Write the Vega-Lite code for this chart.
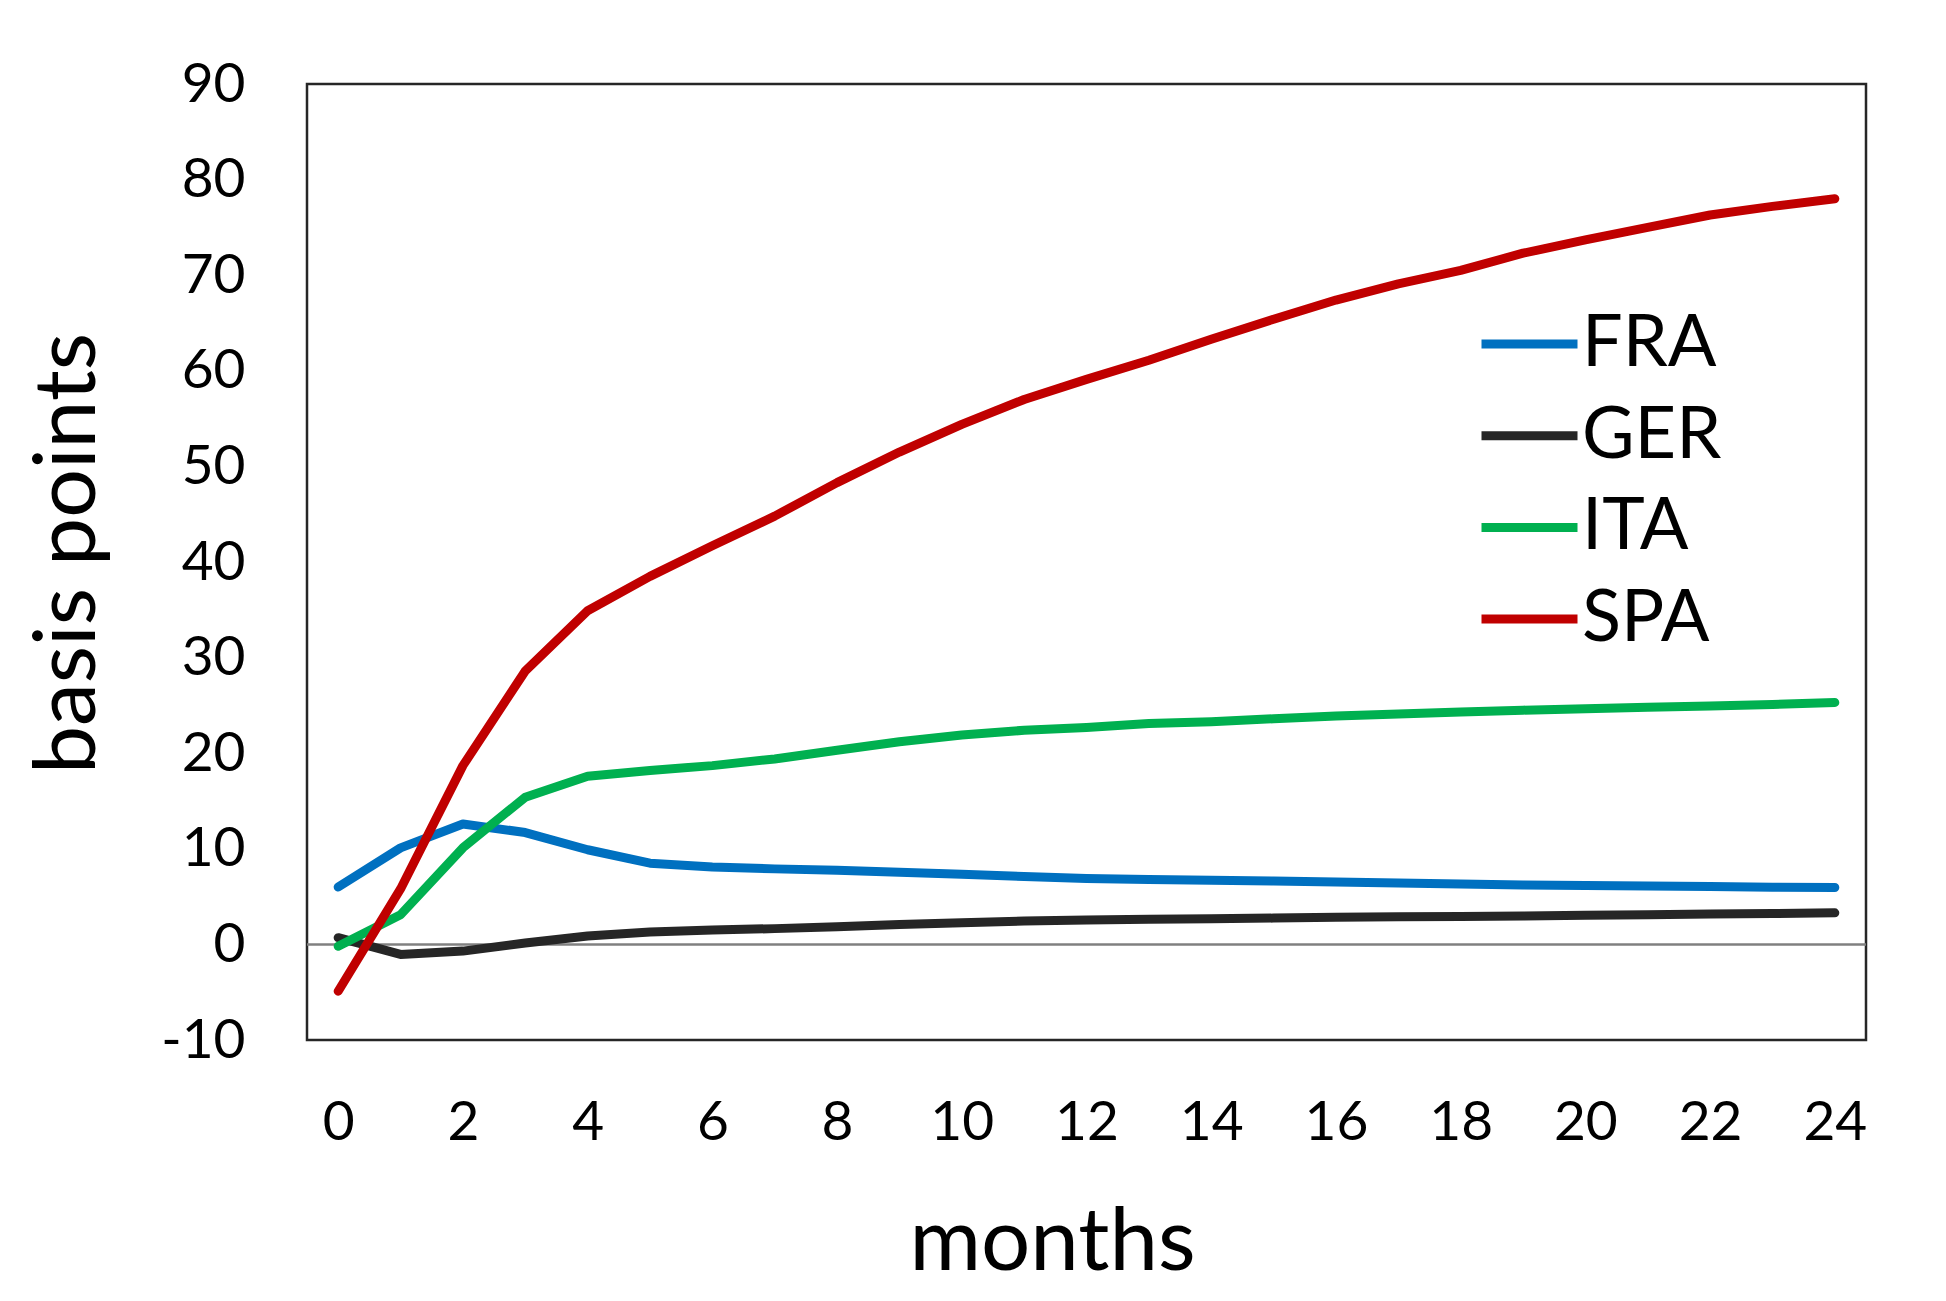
{
  "$schema": "https://vega.github.io/schema/vega-lite/v6.json",
  "autosize": {"type": "none"},
  "padding": {"left": 307, "top": 84, "right": 80, "bottom": 261},
  "width": 1559,
  "height": 956,
  "background": "white",
  "config": {
    "font": "Lato",
    "view": {"stroke": "#262626", "strokeWidth": 2.5}
  },
  "data": {
    "values": [
      {"month": 0, "country": "FRA", "bp": 6.0},
      {"month": 1, "country": "FRA", "bp": 10.1},
      {"month": 2, "country": "FRA", "bp": 12.6},
      {"month": 3, "country": "FRA", "bp": 11.7},
      {"month": 4, "country": "FRA", "bp": 9.9},
      {"month": 5, "country": "FRA", "bp": 8.5},
      {"month": 6, "country": "FRA", "bp": 8.1},
      {"month": 7, "country": "FRA", "bp": 7.9},
      {"month": 8, "country": "FRA", "bp": 7.75},
      {"month": 9, "country": "FRA", "bp": 7.55},
      {"month": 10, "country": "FRA", "bp": 7.35},
      {"month": 11, "country": "FRA", "bp": 7.1},
      {"month": 12, "country": "FRA", "bp": 6.9},
      {"month": 13, "country": "FRA", "bp": 6.8},
      {"month": 14, "country": "FRA", "bp": 6.7},
      {"month": 15, "country": "FRA", "bp": 6.63},
      {"month": 16, "country": "FRA", "bp": 6.52},
      {"month": 17, "country": "FRA", "bp": 6.42},
      {"month": 18, "country": "FRA", "bp": 6.31},
      {"month": 19, "country": "FRA", "bp": 6.21},
      {"month": 20, "country": "FRA", "bp": 6.15},
      {"month": 21, "country": "FRA", "bp": 6.1},
      {"month": 22, "country": "FRA", "bp": 6.05},
      {"month": 23, "country": "FRA", "bp": 5.98},
      {"month": 24, "country": "FRA", "bp": 5.95},
      {"month": 0, "country": "GER", "bp": 0.7},
      {"month": 1, "country": "GER", "bp": -1.05},
      {"month": 2, "country": "GER", "bp": -0.7},
      {"month": 3, "country": "GER", "bp": 0.15},
      {"month": 4, "country": "GER", "bp": 0.87},
      {"month": 5, "country": "GER", "bp": 1.3},
      {"month": 6, "country": "GER", "bp": 1.5},
      {"month": 7, "country": "GER", "bp": 1.65},
      {"month": 8, "country": "GER", "bp": 1.85},
      {"month": 9, "country": "GER", "bp": 2.09},
      {"month": 10, "country": "GER", "bp": 2.27},
      {"month": 11, "country": "GER", "bp": 2.44},
      {"month": 12, "country": "GER", "bp": 2.55},
      {"month": 13, "country": "GER", "bp": 2.62},
      {"month": 14, "country": "GER", "bp": 2.69},
      {"month": 15, "country": "GER", "bp": 2.75},
      {"month": 16, "country": "GER", "bp": 2.83},
      {"month": 17, "country": "GER", "bp": 2.89},
      {"month": 18, "country": "GER", "bp": 2.93},
      {"month": 19, "country": "GER", "bp": 2.97},
      {"month": 20, "country": "GER", "bp": 3.05},
      {"month": 21, "country": "GER", "bp": 3.1},
      {"month": 22, "country": "GER", "bp": 3.18},
      {"month": 23, "country": "GER", "bp": 3.23},
      {"month": 24, "country": "GER", "bp": 3.3},
      {"month": 0, "country": "ITA", "bp": -0.2},
      {"month": 1, "country": "ITA", "bp": 3.1},
      {"month": 2, "country": "ITA", "bp": 10.1},
      {"month": 3, "country": "ITA", "bp": 15.4},
      {"month": 4, "country": "ITA", "bp": 17.6},
      {"month": 5, "country": "ITA", "bp": 18.2},
      {"month": 6, "country": "ITA", "bp": 18.7},
      {"month": 7, "country": "ITA", "bp": 19.4},
      {"month": 8, "country": "ITA", "bp": 20.3},
      {"month": 9, "country": "ITA", "bp": 21.2},
      {"month": 10, "country": "ITA", "bp": 21.9},
      {"month": 11, "country": "ITA", "bp": 22.4},
      {"month": 12, "country": "ITA", "bp": 22.7},
      {"month": 13, "country": "ITA", "bp": 23.1},
      {"month": 14, "country": "ITA", "bp": 23.3},
      {"month": 15, "country": "ITA", "bp": 23.6},
      {"month": 16, "country": "ITA", "bp": 23.9},
      {"month": 17, "country": "ITA", "bp": 24.1},
      {"month": 18, "country": "ITA", "bp": 24.3},
      {"month": 19, "country": "ITA", "bp": 24.5},
      {"month": 20, "country": "ITA", "bp": 24.65},
      {"month": 21, "country": "ITA", "bp": 24.8},
      {"month": 22, "country": "ITA", "bp": 24.95},
      {"month": 23, "country": "ITA", "bp": 25.1},
      {"month": 24, "country": "ITA", "bp": 25.3},
      {"month": 0, "country": "SPA", "bp": -4.9},
      {"month": 1, "country": "SPA", "bp": 5.8},
      {"month": 2, "country": "SPA", "bp": 18.7},
      {"month": 3, "country": "SPA", "bp": 28.6},
      {"month": 4, "country": "SPA", "bp": 34.9},
      {"month": 5, "country": "SPA", "bp": 38.5},
      {"month": 6, "country": "SPA", "bp": 41.7},
      {"month": 7, "country": "SPA", "bp": 44.8},
      {"month": 8, "country": "SPA", "bp": 48.3},
      {"month": 9, "country": "SPA", "bp": 51.5},
      {"month": 10, "country": "SPA", "bp": 54.4},
      {"month": 11, "country": "SPA", "bp": 57.0},
      {"month": 12, "country": "SPA", "bp": 59.1},
      {"month": 13, "country": "SPA", "bp": 61.1},
      {"month": 14, "country": "SPA", "bp": 63.3},
      {"month": 15, "country": "SPA", "bp": 65.4},
      {"month": 16, "country": "SPA", "bp": 67.4},
      {"month": 17, "country": "SPA", "bp": 69.1},
      {"month": 18, "country": "SPA", "bp": 70.5},
      {"month": 19, "country": "SPA", "bp": 72.3},
      {"month": 20, "country": "SPA", "bp": 73.7},
      {"month": 21, "country": "SPA", "bp": 75.0},
      {"month": 22, "country": "SPA", "bp": 76.3},
      {"month": 23, "country": "SPA", "bp": 77.2},
      {"month": 24, "country": "SPA", "bp": 78.0}
    ]
  },
  "layer": [
    {
      "data": {"values": [{}]},
      "mark": {"type": "rule", "color": "#808080", "strokeWidth": 2.5},
      "encoding": {
        "y": {"datum": 0, "type": "quantitative"}
      }
    },
    {
      "mark": {"type": "line", "strokeWidth": 9, "strokeCap": "round", "strokeJoin": "round"},
      "encoding": {
        "x": {
          "field": "month",
          "type": "quantitative",
          "scale": {"domain": [-0.5, 24.5], "nice": false, "zero": false},
          "axis": {
            "title": "months",
            "values": [0, 2, 4, 6, 8, 10, 12, 14, 16, 18, 20, 22, 24],
            "grid": false,
            "ticks": false,
            "tickSize": 0,
            "domain": false,
            "labelFlush": false,
            "labelFontSize": 55,
            "labelColor": "black",
            "labelPadding": 56,
            "titleFontSize": 87,
            "titleFontWeight": "normal",
            "titleColor": "black",
            "titleX": 745,
            "titleY": 229,
            "titleAlign": "center",
            "titleBaseline": "alphabetic"
          }
        },
        "y": {
          "field": "bp",
          "type": "quantitative",
          "scale": {"domain": [-10, 90], "nice": false},
          "axis": {
            "title": "basis points",
            "values": [-10, 0, 10, 20, 30, 40, 50, 60, 70, 80, 90],
            "labelExpr": "'' + datum.value",
            "grid": false,
            "ticks": false,
            "tickSize": 0,
            "domain": false,
            "labelFontSize": 55,
            "labelColor": "black",
            "labelPadding": 62,
            "titleFontSize": 86,
            "titleFontWeight": "normal",
            "titleColor": "black",
            "titleAngle": -90,
            "titleX": -213,
            "titleY": 469,
            "titleAlign": "center",
            "titleBaseline": "alphabetic"
          }
        },
        "color": {
          "field": "country",
          "type": "nominal",
          "scale": {
            "domain": ["FRA", "GER", "ITA", "SPA"],
            "range": ["#0070C0", "#262626", "#00B050", "#C00000"]
          },
          "legend": {
            "title": null,
            "orient": "none",
            "legendX": 1170,
            "legendY": 220,
            "padding": 0,
            "symbolType": "stroke",
            "symbolSize": 9216,
            "symbolStrokeWidth": 9,
            "clipHeight": 80,
            "rowPadding": 11.7,
            "labelFontSize": 72,
            "labelColor": "black",
            "labelOffset": 0
          }
        }
      }
    }
  ]
}
